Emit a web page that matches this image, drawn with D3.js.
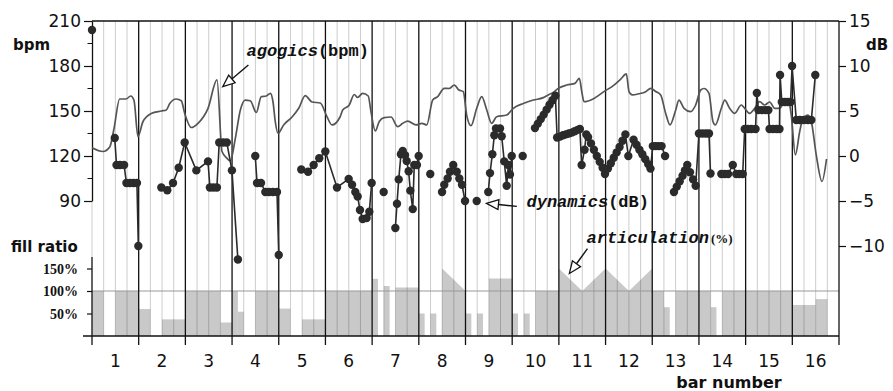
<!DOCTYPE html>
<html><head><meta charset="utf-8">
<script src="https://cdn.jsdelivr.net/npm/d3@7"></script>
<style>body{margin:0;background:#fff} svg{display:block}</style>
</head><body><svg id="c" width="893" height="391"></svg>
<script>
// ---------- DATA ----------
const barLabels = [1,2,3,4,5,6,7,8,9,10,11,12,13,14,15,16];
const bpmTicks = [90,120,150,180,210];
const bpmMinor = [105,135,165,195];
const dbTicks = [-10,-5,0,5,10,15];
const fillTicks = [50,100,150];

// agogics: beat position, tempo (bpm)
const agoBeat = [0,0.94,1.52,1.88,2.37,2.91,3.32,3.6,3.94,4.37,5.08,5.94,6.37,6.66,7.22,7.65,7.94,8.51,9.08,9.94,10.71,11.14,11.57,11.85,12.28,12.71,13.13,13.56,14.08,14.5,14.93,15.28,15.51,15.7,15.94,16.42,17.14,17.71,18.27,18.85,19.56,20.13,20.56,21.25,21.48,22.04,22.47,22.76,23.19,23.67,23.9,24.27,24.61,25.04,25.62,26.19,26.62,27.05,27.76,28.27,28.68,29.19,29.62,30.18,30.59,31.04,31.44,31.81,32.1,32.47,32.96,33.39,33.82,34.24,34.67,35.53,36.1,36.95,37.81,38.67,39.09,39.52,39.95,40.67,41.38,41.75,41.98,42.15,43.01,43.86,44.72,45.3,45.78,46.01,46.29,46.86,47.44,47.87,48.29,48.72,49.15,49.52,50.01,50.29,50.72,51.29,51.72,52.15,52.43,52.86,53.2,53.4,53.92,54.21,54.63,55.06,55.63,55.92,56.35,56.78,57.2,57.63,58.06,58.49,58.92,59.35,59.63,59.91,60.26,60.63,60.92,61.34,61.63,62.05,62.54,62.93];
const agoBpm = [125.5,123,126,138,158,158,160,157,133,143,148.4,150,150.7,155,158,156.8,148.5,139,141.8,151.8,170.7,123,118.4,116.7,131.8,150.7,157.3,156.8,149,159.6,160,161.8,156,143,135,140.7,146,151.8,160.2,156,155.3,146.2,140.7,146,150.7,154,161,159,161.8,160,149.6,136.7,143,145.6,146,139.6,141.8,143.3,140.7,141.8,140.7,157.3,159.6,165.1,165,167.3,164,162.9,147.3,140.2,151.8,159.6,150.7,141.8,146.2,147.3,151.8,155,157.3,158.9,160.7,162.4,165.1,167.3,168.4,171.8,162,156.2,158.4,162.9,167.3,171.3,174.7,162.9,160.7,161.5,162.9,165.1,163,160.7,148.4,140.7,150.7,157.3,151.8,149.6,154,164,165,161.8,143,140.7,151.8,157.3,151.8,148.4,154,151.8,148.4,151.8,156.2,154,156,151.8,151.8,157.3,158,147.3,120.7,136.2,145,147.3,143,120.7,103,118];

// dynamics: beat position, level (dB), connected group id
const dynBeat = [0,
 1.95,2.1,2.4,2.75,2.95,3.25,3.55,3.85,3.97,
 5.94,6.45,6.94,7.43,7.94,8.94,9.94,10.1,10.4,10.7,10.9,11.25,11.55,11.99,12.5,
 13.99,14.14,14.48,14.85,15.16,15.5,15.85,16.0,
 17.93,18.51,18.99,19.47,19.99,20.99,21.99,22.28,22.56,22.76,22.96,23.19,23.53,23.76,23.96,
 24.99,
 25.99,26.13,26.28,26.47,26.62,26.82,26.96,27.13,27.27,27.48,27.61,27.84,27.99,
 28.98,
 29.99,30.18,30.47,30.67,30.95,31.25,31.47,31.7,31.96,
 32.96,
 33.95,34.1,34.3,34.47,34.61,34.96,35.1,35.32,35.53,35.67,35.81,35.96,
 36.9,
 37.95,38.2,38.45,38.7,38.95,39.2,39.45,39.7,39.85,40.1,40.35,40.6,40.85,41.1,41.35,41.6,41.8,41.95,42.2,42.35,42.5,42.75,43.0,43.25,43.5,43.75,43.95,44.2,44.45,44.7,44.95,45.2,45.45,45.7,45.95,46.4,46.65,46.9,47.15,47.4,47.65,47.85,48.05,48.3,48.55,48.8,49.1,
 49.86,50.1,50.35,50.6,50.8,51.0,51.23,51.5,51.72,52.0,52.3,52.6,52.86,52.99,
 53.92,54.2,54.5,54.9,55.2,55.45,55.75,55.92,56.2,56.5,56.85,56.96,57.1,57.4,57.7,57.95,58.05,58.35,58.65,58.9,58.95,59.1,59.35,59.6,59.85,59.98,60.34,60.65,60.99,61.34,61.63,61.97];
const dynDb = [14,
 2,-1,-1,-1,-3,-3,-3,-3,-10,
 -3.5,-3.8,-3,-1.3,1.5,-1.6,-0.6,-3.5,-3.5,-3.5,1.5,1.5,1.5,-1.6,-11.5,
 0,-3,-3,-4,-4,-4,-4,-11,
 -1.5,-1.75,-1,-0.25,0.5,-3.5,-2.55,-3.2,-4,-4.5,-6,-7,-6.9,-6.2,-3,
 -4,
 -8,-5.3,-2.6,0.2,0.55,0.1,-0.55,-1.7,-3.85,-5.9,-1,-1,0,
 -2,
 -4,-3.2,-2.5,-1.75,-1,-1.75,-2.5,-3.2,-5,
 -5,
 -4,-1.9,0.2,2.3,3.05,3.05,2.2,-0.6,-3.3,-1,-2.05,0,
 0,
 3.1,3.6,4.1,4.6,5.15,5.7,6.2,6.7,2.05,2.15,2.3,2.4,2.5,2.6,2.75,2.9,3.0,-1,0.7,2.4,2.1,1.4,0.7,0,-0.65,-1.3,-2,-1.4,-0.8,-0.2,0.4,1.0,1.7,2.4,0,1.8,1.25,0.7,0.2,-0.35,-0.9,-1.4,1.1,1.1,1.1,1.1,0,
 -4,-3.4,-2.8,-2.2,-1.6,-1,-1.8,-2.6,-3.3,2.5,2.5,2.5,2.5,-1.95,
 -2,-2,-2,-1,-2,-2,-2,3,3,3,3,7,5.1,5.1,5.1,5.1,3,3,3,3,9,6,6,6,6,10,4,4,4,4,4,9];
const dynGroup = [0,
 1,1,1,1,1,1,1,1,1,
 2,2,2,2,2,2,2,2,2,2,2,2,2,2,2,
 3,3,3,3,3,3,3,3,
 4,4,4,4,4,4,4,4,4,4,4,4,4,4,4,
 5,
 6,6,6,6,6,6,6,6,6,6,6,6,6,
 7,
 8,8,8,8,8,8,8,8,8,
 9,
 10,10,10,10,10,10,10,10,10,10,10,10,
 11,
 12,12,12,12,12,12,12,12,12,12,12,12,12,12,12,12,12,12,12,12,12,12,12,12,12,12,12,12,12,12,12,12,12,12,12,12,12,12,12,12,12,12,12,12,12,12,12,
 13,13,13,13,13,13,13,13,13,13,13,13,13,13,
 14,14,14,14,14,14,14,14,14,14,14,14,14,14,14,14,14,14,14,14,14,14,14,14,14,14,14,14,14,14,14,14];

// articulation (fill ratio %): beat start, beat end, value at start, value at end
const artStart = [0,2,4,6,8,11,12,12.5,14,16,18,20,24,25,26,28,29,30,32,33,34,36,37,38,40,42,44,46,48,49,50,53,54,60,62];
const artEnd   = [1,4,5,8,11,12,12.5,13,16,17,20,24,24.5,25.5,28,28.5,29.5,32,32.5,33.5,36,36.5,37.5,40,42,44,46,48,49,49.5,53,53.5,60,62,63];
const artFrom  = [100,100,60,37,100,30,100,54,100,61,37,100,127,111,108,50,50,150,50,50,128,50,50,100,150,100,150,100,100,64,100,64,100,69,82];
const artTo    = [100,100,60,37,100,30,100,54,100,61,37,100,127,111,108,50,50,100,50,50,128,50,50,100,100,150,100,150,100,64,100,64,100,69,82];

// ---------- CHART ----------
const svg = d3.select("#c");
const x = d3.scaleLinear().domain([0,64]).range([92,839]);
const yBpm = d3.scaleLinear().domain([90,210]).range([201,21]);
const yDb = d3.scaleLinear().domain([-10,15]).range([246,21]);
const yFill = d3.scaleLinear().domain([0,150]).range([336,268.5]);
const TOP = 21, BOT = 336;
const numFont = "DejaVu Sans, sans-serif";

// articulation areas
const area = d3.area().x(d=>x(d.b)).y0(yFill(0)).y1(d=>yFill(d.v));
svg.append("g").selectAll("path").data(artStart.map((s,i)=>[{b:s,v:artFrom[i]},{b:artEnd[i],v:artTo[i]}]))
  .join("path").attr("d", area).attr("fill","#c9c9c9");

// beat gridlines
svg.append("g").selectAll("line").data(d3.range(0,65).filter(b=>b%4!==0))
  .join("line").attr("x1",d=>x(d)).attr("x2",d=>x(d)).attr("y1",TOP).attr("y2",BOT)
  .attr("stroke","#000").attr("stroke-opacity",0.2).attr("stroke-width",1);
svg.append("line").attr("x1",x(0)).attr("x2",x(0)).attr("y1",201).attr("y2",257)
  .attr("stroke","#000").attr("stroke-opacity",0.2);

// 100% line
svg.append("line").attr("x1",x(0)).attr("x2",x(64)).attr("y1",yFill(100)).attr("y2",yFill(100))
  .attr("stroke","#999").attr("stroke-width",1);

// bar lines (with ticks below axis)
svg.append("g").selectAll("line").data(d3.range(4,64,4))
  .join("line").attr("x1",d=>x(d)).attr("x2",d=>x(d)).attr("y1",TOP).attr("y2",BOT+9)
  .attr("stroke","#111").attr("stroke-width",1.3);

// frame lines
svg.append("line").attr("x1",x(0)).attr("x2",x(64)).attr("y1",TOP).attr("y2",TOP).attr("stroke","#111").attr("stroke-width",1.3);
svg.append("line").attr("x1",83).attr("x2",x(64)).attr("y1",BOT).attr("y2",BOT).attr("stroke","#111").attr("stroke-width",1.5);
svg.append("line").attr("x1",x(64)).attr("x2",x(64)).attr("y1",TOP).attr("y2",BOT+9).attr("stroke","#111").attr("stroke-width",1.3);
svg.append("line").attr("x1",x(0)).attr("x2",x(0)).attr("y1",257).attr("y2",BOT+9).attr("stroke","#111").attr("stroke-width",1.3);

// left bpm axis
const gL = svg.append("g").attr("transform",`translate(${x(0)},0)`)
  .call(d3.axisLeft(yBpm).tickValues(bpmTicks).tickSize(8).tickSizeOuter(0).tickPadding(3));
gL.select(".domain").attr("stroke","#111").attr("stroke-width",1.3);
gL.selectAll(".tick line").attr("stroke","#111").attr("stroke-width",1.2);
gL.selectAll("text").attr("font-family",numFont).attr("font-size",17).attr("fill","#111");
svg.append("g").selectAll("line").data(bpmMinor).join("line")
  .attr("x1",x(0)-4.5).attr("x2",x(0)).attr("y1",d=>yBpm(d)).attr("y2",d=>yBpm(d))
  .attr("stroke","#111").attr("stroke-width",1);

// right dB axis
const gR = svg.append("g").attr("transform",`translate(${x(64)},0)`)
  .call(d3.axisRight(yDb).tickValues(dbTicks).tickSize(7).tickPadding(3));
gR.select(".domain").remove();
gR.selectAll(".tick line").attr("stroke","#111").attr("stroke-width",1.2);
gR.selectAll("text").attr("font-family",numFont).attr("font-size",17).attr("fill","#111");

// fill ratio axis
const gF = svg.append("g").attr("transform",`translate(${x(0)},0)`)
  .call(d3.axisLeft(yFill).tickValues(fillTicks).tickSize(5).tickPadding(9).tickFormat(d=>d+"%"));
gF.select(".domain").remove();
gF.selectAll(".tick line").attr("stroke","#111").attr("stroke-width",1.2);
gF.selectAll("text").attr("font-family","Liberation Serif, serif").attr("font-weight","bold")
  .attr("font-size",14).attr("fill","#111").attr("dy","0.35em");

// bar number labels
svg.append("g").selectAll("text").data(barLabels).join("text")
  .attr("x",d=>x((d-1)*4+2)).attr("y",366.5).attr("text-anchor","middle")
  .attr("font-family",numFont).attr("font-size",17).attr("fill","#111").text(d=>d);

// axis titles
const bold = (t,xx,yy,size,anchor)=>svg.append("text").attr("x",xx).attr("y",yy)
  .attr("font-family",numFont).attr("font-weight","bold").attr("font-size",size)
  .attr("text-anchor",anchor||"start").attr("fill","#111").text(t);
bold("bpm",13,49.5,15);
bold("dB",866,50,15);
bold("fill ratio",11,251.5,15);
bold("bar number",729,387.5,16,"middle");

// agogics line
svg.append("path").datum(agoBeat.map((b,i)=>[b,agoBpm[i]]))
  .attr("d", d3.line().x(d=>x(d[0])).y(d=>yBpm(d[1])).curve(d3.curveMonotoneX))
  .attr("fill","none").attr("stroke","#555").attr("stroke-width",1.7);

// dynamics
const dyn = dynBeat.map((b,i)=>({b, v:dynDb[i], g:dynGroup[i]}));
const groups = d3.groups(dyn, d=>d.g);
svg.append("g").selectAll("path").data(groups.filter(g=>g[1].length>1)).join("path")
  .attr("d", g=>d3.line().x(d=>x(d.b)).y(d=>yDb(d.v))(g[1]))
  .attr("fill","none").attr("stroke","#2b2b2b").attr("stroke-width",1.6);
svg.append("g").selectAll("circle").data(dyn).join("circle")
  .attr("cx",d=>x(d.b)).attr("cy",d=>yDb(d.v)).attr("r",4.2).attr("fill","#2b2b2b");

// annotations
function arrow(x1,y1,x2,y2,len,hw){
  const dx=x2-x1, dy=y2-y1, L=Math.hypot(dx,dy), ux=dx/L, uy=dy/L;
  const bx=x2-ux*len, by=y2-uy*len, px=-uy, py=ux;
  svg.append("line").attr("x1",x1).attr("y1",y1).attr("x2",bx).attr("y2",by)
    .attr("stroke","#111").attr("stroke-width",1.4);
  svg.append("polygon").attr("points",[[x2,y2],[bx+px*hw,by+py*hw],[bx-px*hw,by-py*hw]].map(p=>p.join(",")).join(" "))
    .attr("fill","#fff").attr("stroke","#111").attr("stroke-width",1.3);
}
arrow(x(13.4), yBpm(180.7), x(11.2), yBpm(166.2), 12, 5);
arrow(x(36.4), yDb(-5.6), x(33.8), yDb(-5.26), 12, 5);
arrow(x(42.45), yFill(194), x(40.9), yFill(139), 12, 5);

const mono = "Courier New, Liberation Mono, monospace";
function label(xx,yy,main,paren,parenSerif){
  const t = svg.append("text").attr("x",xx).attr("y",yy).attr("fill","#111");
  t.append("tspan").attr("font-family",mono).attr("font-weight","bold").attr("font-style","italic")
    .attr("font-size",17).text(main);
  const p = t.append("tspan").attr("font-weight","bold").text(paren);
  if(parenSerif) p.attr("font-family","Liberation Serif, serif").attr("font-size",13).attr("dx",2);
  else p.attr("font-family",mono).attr("font-size",17);
}
label(246.5,56,"agogics","(bpm)");
label(526.5,207,"dynamics","(dB)");
label(586.5,243,"articulation","(%)",true);
</script></body></html>
